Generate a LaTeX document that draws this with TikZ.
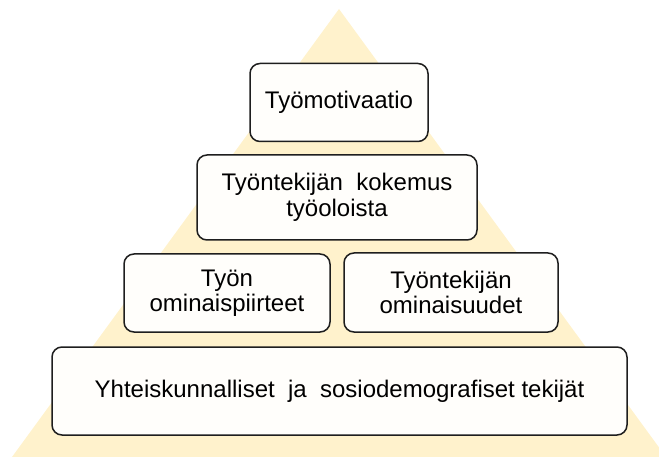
\documentclass[tikz,border=0pt]{standalone}
\usepackage{fontspec}
\setmainfont{Liberation Sans}
\definecolor{pyramid}{HTML}{FFF2CC}
\definecolor{boxfill}{HTML}{FFFEFB}
\definecolor{boxline}{HTML}{1E1E1E}

\begin{document}
\begin{tikzpicture}[
		x=1pt, y=-1pt,
		level/.style={draw=boxline, line width=1.5pt, fill=boxfill, rounded corners=10pt,
			align=center, inner sep=0pt, font=\fontsize{24}{25.5}\selectfont},
		]
		\useasboundingbox (0,0) rectangle (659,457);
		\fill[pyramid] (339,9) -- (666,457) -- (12,457) -- cycle;

		\node[level, minimum width=178, minimum height=78] (motivaatio) at (339,102.5) {Työmotivaatio};
		\node[level, minimum width=280, minimum height=85] (kokemus) at (337,197.5) {Työntekijän\ \ kokemus\\työoloista};
		\node[level, minimum width=206, minimum height=78] (piirteet) at (227,293) {Työn\\ominaispiirteet};
		\node[level, minimum width=214, minimum height=79] (ominaisuudet) at (451,292.5) {Työntekijän\\ominaisuudet};
		\node[level, minimum width=575, minimum height=88] (tekijat) at (339.5,391) {Yhteiskunnalliset\ \ ja\ \ sosiodemografiset tekijät};

\end{tikzpicture}
\end{document}
